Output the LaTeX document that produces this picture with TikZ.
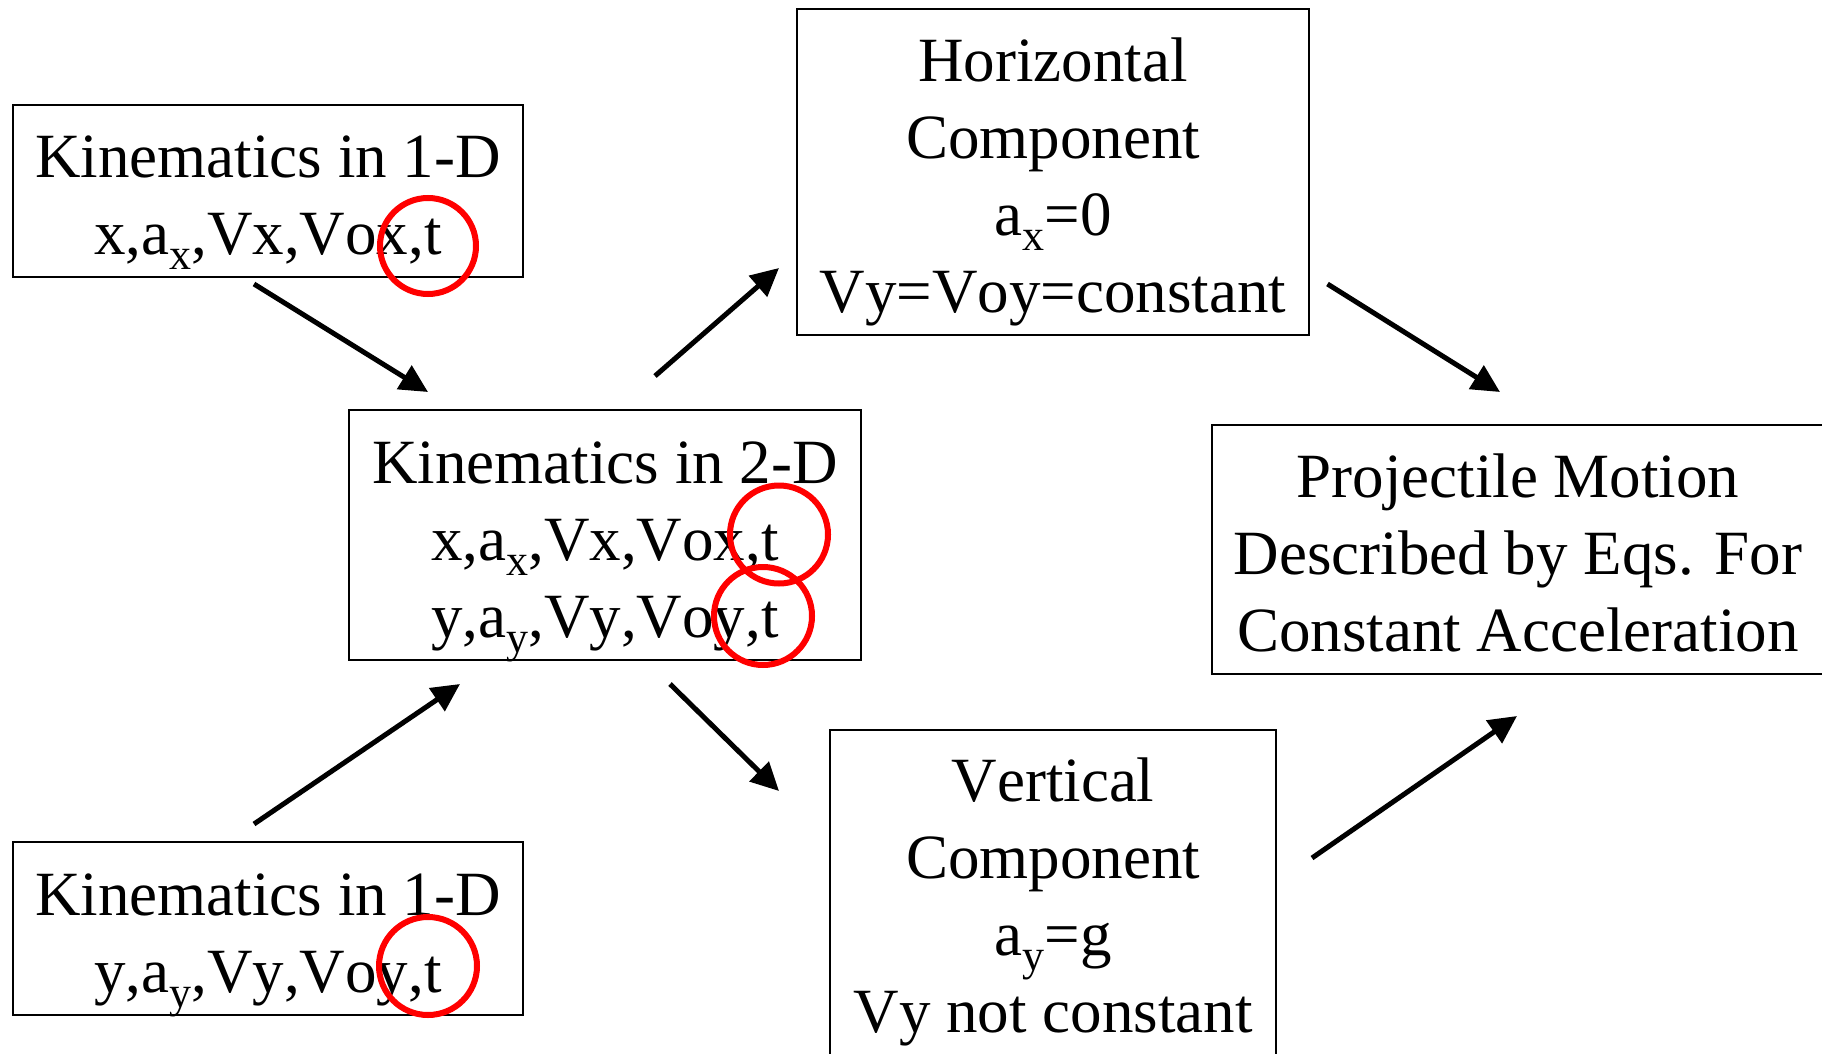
\documentclass[tikz,border=0pt]{standalone}
\usepackage{fontspec}
\setmainfont{Liberation Serif}[Kerning=Off]
\usetikzlibrary{arrows.meta,calc}
\newcommand\sbs[1]{\smash{\raisebox{-15pt}{\fontsize{44}{44}\selectfont #1}}}
\newcommand\topstr{\rule{0pt}{70pt}}
\newcommand\botstr[1][20pt]{\rule[-#1]{0pt}{#1}}
\begin{document}
\begin{tikzpicture}[x=1pt,y=-1pt,
  box/.style={draw=black,line width=2pt,inner sep=0pt,align=center,font=\fontsize{63}{77}\selectfont},
  arr/.style={line width=5pt,-{Triangle[length=28pt,width=27pt]}},
  redring/.style={draw=red,line width=6pt}]
\clip (0,0) rectangle (1822,1054);
\fill[white] (0,0) rectangle (1822,1054);
\node[box,minimum width=510pt,minimum height=172pt] (A) at (268,191) {\topstr Kinematics in 1-D\\x,a\sbs{x},Vx,Vox,t\botstr};
\node[box,minimum width=510pt,minimum height=173pt] (C) at (268,928.5) {\topstr Kinematics in 1-D\\y,a\sbs{y},Vy,Voy,t\botstr};
\node[box,minimum width=512pt,minimum height=250pt] (B) at (605,535) {\topstr Kinematics in 2-D\\x,a\sbs{x},Vx,Vox,t\\y,a\sbs{y},Vy,Voy,t\botstr};
\node[box,minimum width=512pt,minimum height=326pt] (H) at (1053,172) {\topstr Horizontal\hspace{0.25em}\\Component\\a\sbs{x}=0\\Vy=Voy=constant\botstr};
\node[box,minimum width=446pt,minimum height=342pt] (V) at (1053,901) {\topstr Vertical\\Component\\a\sbs{y}=g\\Vy not constant\botstr[38pt]};
\node[box,minimum width=612pt,minimum height=249pt] (P) at (1518,549.5) {\topstr Projectile Motion\\Described by Eqs. For\\Constant Acceleration\botstr};
\draw[arr] ($(A.south)+(-14,6)$) -- ($(B.north)+(-177,-17)$);
\draw[arr] ($(C.north)+(-14,-17)$) -- ($(B.south)+(-145,23)$);
\draw[arr] ($(B.north)+(50,-33)$) -- ($(H.south west)+(-17,-68)$);
\draw[arr] ($(B.south)+(65,23)$) -- ($(V.north west)+(-50,62)$);
\draw[arr] ($(H.south east)+(17.5,-52)$) -- ($(P.north)+(-18,-32)$);
\draw[arr] ($(V.east)+(35,-43)$) -- ($(P.south)+(-1,41)$);
\draw[redring] (428,246) circle[radius=48];
\draw[redring] (779,534.5) circle[radius=49];
\draw[redring] (763,616) circle[radius=49];
\draw[redring] (428,966) circle[radius=49];
\end{tikzpicture}
\end{document}
